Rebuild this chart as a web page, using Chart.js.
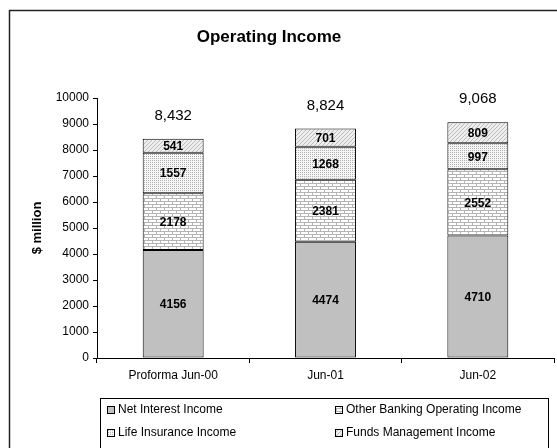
<!DOCTYPE html>
<html>
<head>
<meta charset="utf-8">
<script src="https://cdn.jsdelivr.net/npm/chart.js@4"></script>
<style>
  html, body { margin: 0; padding: 0; background: #fff; }
  #wrap { width: 557px; height: 448px; }
</style>
</head>
<body>
<div id="wrap"><canvas id="barChart" width="557" height="448"></canvas></div>
<script>
const categories = ['Proforma Jun-00', 'Jun-01', 'Jun-02'];
const seriesNames = [
    'Net Interest Income',
    'Other Banking Operating Income',
    'Life Insurance Income',
    'Funds Management Income'
];
const netInterest = [4156, 4474, 4710];
const otherBanking = [2178, 2381, 2552];
const lifeInsurance = [1557, 1268, 997];
const fundsMgmt = [541, 701, 809];
const yTicks = [0, 1000, 2000, 3000, 4000, 5000, 6000, 7000, 8000, 9000, 10000];

const FONT = '"Liberation Sans", Arial, sans-serif';

// petits motifs de remplissage
function makePattern(w, h, draw) {
    const c = document.createElement('canvas');
    c.width = w; c.height = h;
    const g = c.getContext('2d');
    draw(g);
    return g.createPattern(c, 'repeat');
}

const brick = makePattern(8, 6, g => {
    g.fillStyle = '#ffffff'; g.fillRect(0, 0, 8, 6);
    g.fillStyle = '#b4b4b4';
    g.fillRect(0, 0, 8, 1);
    g.fillRect(0, 3, 8, 1);
    g.fillRect(0, 0, 1, 3);
    g.fillRect(4, 3, 1, 3);
});
const dots = makePattern(2, 2, g => {
    g.fillStyle = '#f6f6f6'; g.fillRect(0, 0, 2, 2);
    g.fillStyle = '#b0b0b0'; g.fillRect(0, 0, 1, 1);
});
const diag = makePattern(4, 4, g => {
    g.fillStyle = '#eeeeee'; g.fillRect(0, 0, 4, 4);
    g.fillStyle = '#bcbcbc';
    for (let i = 0; i < 4; i++) g.fillRect(3 - i, i, 1, 1);
});

const fills = ['#c0c0c0', brick, dots, diag];
const values = [netInterest, otherBanking, lifeInsurance, fundsMgmt];

const datasets = seriesNames.map((name, i) => ({
    label: name,
    data: values[i],
    backgroundColor: fills[i],
    borderColor: '#000',
    borderWidth: 1,
    borderSkipped: false,
    barPercentage: 0.8,
    categoryPercentage: 0.5
}));

const totals = categories.map((c, i) => values.reduce((s, v) => s + v[i], 0));

const decorPlugin = {
    id: 'decor',
    afterDraw(chart) {
        const ctx = chart.ctx;
        const y = chart.scales.y;
        ctx.save();

        // cadre extérieur
        ctx.strokeStyle = '#222';
        ctx.lineWidth = 1.5;
        ctx.strokeRect(9.5, 10.5, 600, 500);

        // titre
        ctx.fillStyle = '#000';
        ctx.textAlign = 'center';
        ctx.textBaseline = 'middle';
        ctx.font = 'bold 17px ' + FONT;
        ctx.fillText('Operating Income', 269, 37);

        // titre axe Y
        ctx.save();
        ctx.translate(37, (y.top + y.bottom) / 2);
        ctx.rotate(-Math.PI / 2);
        ctx.font = 'bold 13px ' + FONT;
        ctx.fillText('$ million', 0, 0);
        ctx.restore();

        // valeurs dans les segments
        ctx.font = 'bold 12px ' + FONT;
        chart.data.datasets.forEach((ds, di) => {
            const meta = chart.getDatasetMeta(di);
            meta.data.forEach((bar, i) => {
                const mid = (bar.y + bar.base) / 2;
                ctx.fillText(String(ds.data[i]), bar.x, mid + 1);
            });
        });

        // totaux
        ctx.font = '15px ' + FONT;
        const meta0 = chart.getDatasetMeta(0);
        totals.forEach((t, i) => {
            const px = meta0.data[i].x;
            ctx.fillText(t.toLocaleString('en-US'), px, y.getPixelForValue(t) - 23);
        });

        // légende
        ctx.lineWidth = 1;
        ctx.strokeStyle = '#000';
        ctx.strokeRect(100.5, 398.5, 448, 60);
        ctx.font = '12px ' + FONT;
        ctx.textAlign = 'left';
        const cols = [107, 335];
        const rows = [410, 433];
        seriesNames.forEach((name, i) => {
            const bx = cols[i % 2];
            const by = rows[Math.floor(i / 2)];
            ctx.fillStyle = fills[i];
            ctx.fillRect(bx, by - 4, 7, 7);
            ctx.strokeRect(bx + 0.5, by - 3.5, 7, 7);
            ctx.fillStyle = '#000';
            ctx.fillText(name, bx + 11, by);
        });

        ctx.restore();
    }
};

new Chart(document.getElementById('barChart').getContext('2d'), {
    type: 'bar',
    data: { labels: categories, datasets: datasets },
    options: {
        responsive: false,
        animation: false,
        events: [],
        layout: { padding: { left: 0, top: 98, right: 3, bottom: 0 } },
        plugins: {
            legend: { display: false },
            title: { display: false },
            tooltip: { enabled: false }
        },
        scales: {
            x: {
                stacked: true,
                afterFit: s => { s.height = 90; },
                border: { display: true, color: '#000', width: 1 },
                grid: { display: true, drawOnChartArea: false, offset: true, color: '#000', tickLength: 5 },
                ticks: { color: '#000', font: { family: FONT, size: 12 }, padding: 5, maxRotation: 0 }
            },
            y: {
                stacked: true,
                min: 0,
                max: 10000,
                afterFit: s => { s.width = 97; },
                afterBuildTicks: s => { s.ticks = yTicks.map(v => ({ value: v })); },
                border: { display: true, color: '#000', width: 1 },
                grid: { display: true, drawOnChartArea: false, color: '#000', tickLength: 4 },
                ticks: { color: '#000', font: { family: FONT, size: 12 }, padding: 4, callback: v => String(v) }
            }
        }
    },
    plugins: [decorPlugin]
});
</script>
</body>
</html>
